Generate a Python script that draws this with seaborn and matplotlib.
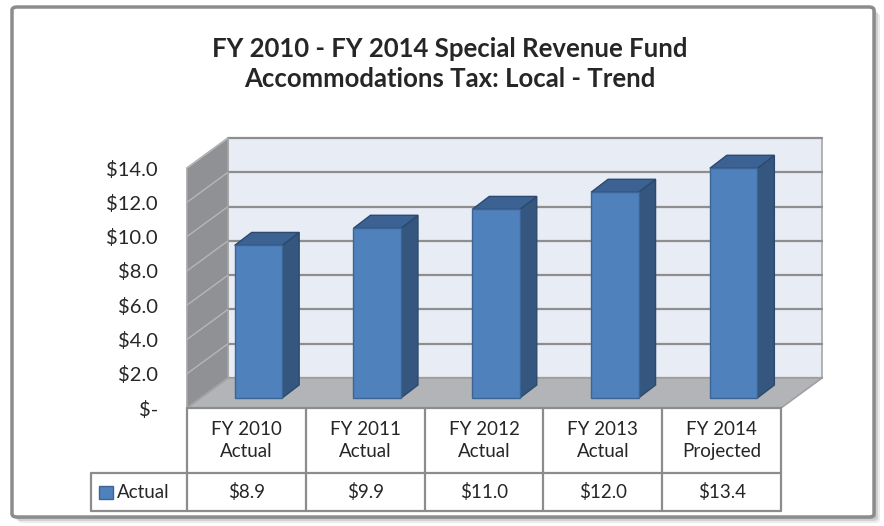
import pandas as pd
import matplotlib
matplotlib.use("Agg")
import matplotlib.pyplot as plt
from matplotlib.patches import Polygon, Rectangle, FancyBboxPatch
from matplotlib.transforms import ScaledTranslation
import seaborn as sns

# data
years = ["FY 2010", "FY 2011", "FY 2012", "FY 2013", "FY 2014"]
status = ["Actual", "Actual", "Actual", "Actual", "Projected"]
revenue = [8.9, 9.9, 11.0, 12.0, 13.4]
value_labels = ["$8.9", "$9.9", "$11.0", "$12.0", "$13.4"]
y_ticks = [0, 2, 4, 6, 8, 10, 12, 14]
y_tick_labels = ["$-", "$2.0", "$4.0", "$6.0", "$8.0", "$10.0", "$12.0", "$14.0"]
series_name = "Actual"
title = "FY 2010 - FY 2014 Special Revenue Fund\nAccommodations Tax: Local - Trend"

sns.set_style("white")
plt.rcParams['font.family'] = ['Lato', 'DejaVu Sans']

W, H = 884, 526
fig = plt.figure(figsize=(W / 100, H / 100), dpi=100)


def box(x0, y0, x1, y1):
    # pixel box (top-left origin) -> figure fraction rect
    return [x0 / W, 1 - y1 / H, (x1 - x0) / W, (y1 - y0) / H]


# chart border with a soft shadow
for k, a in [(6, 0.15), (4, 0.25), (2, 0.35)]:
    fig.add_artist(FancyBboxPatch(((12 + k) / W, 1 - (517 + k) / H), 862 / W, 510 / H,
                                  boxstyle="round,pad=0,rounding_size=0.006",
                                  transform=fig.transFigure, fc="#808080", ec="none",
                                  alpha=a, zorder=-12))
fig.add_artist(FancyBboxPatch((12 / W, 1 - 517 / H), 862 / W, 510 / H,
                              boxstyle="round,pad=0,rounding_size=0.006",
                              transform=fig.transFigure, fc="white", ec="#8C8C8C",
                              lw=2.5, zorder=-10))

ax = fig.add_axes(box(187, 168, 781, 408))
ax.patch.set_visible(False)

df = pd.DataFrame({"year": years, "revenue": revenue})
sns.barplot(data=df, x="year", y="revenue", color="#4F81BD", width=0.4,
            errorbar=None, edgecolor="#3C6596", linewidth=1, saturation=1,
            ax=ax, zorder=4)
bars = list(ax.patches)

ax.set_xlim(-0.5, 4.5)
ax.set_ylim(0, 14)
for s in ax.spines.values():
    s.set_visible(False)
ax.set_xticks([])
ax.set_xlabel("")
ax.set_ylabel("")
ax.set_yticks(y_ticks)
ax.set_yticklabels(y_tick_labels)
ax.tick_params(axis="y", length=0, pad=21, labelsize=14.5)
ax.grid(False)

# pseudo 3D walls
ux, uy = 594 / 5, 240 / 14
dx, dy = 41 / ux, 30 / uy
x0, x1, top = -0.5, 4.5, 14
grid_c = "#8E8E8E"

ax.add_patch(Polygon([(x0 + dx, dy), (x1 + dx, dy), (x1 + dx, top + dy), (x0 + dx, top + dy)],
                     closed=True, fc="#E8ECF5", ec="#A6A6A6", lw=1.2, zorder=0, clip_on=False))
ax.add_patch(Polygon([(x0, 0), (x0 + dx, dy), (x0 + dx, top + dy), (x0, top)],
                     closed=True, fc="#8F9194", ec="#A6A6A6", lw=1.2, zorder=1, clip_on=False))
for v in y_ticks:
    ax.plot([x0 + dx, x1 + dx], [v + dy, v + dy], color=grid_c, lw=1.6, zorder=1, clip_on=False)
    ax.plot([x0, x0 + dx], [v, v + dy], color="#B5B6B8", lw=1.0, zorder=2, clip_on=False)
ax.add_patch(Polygon([(x0, 0), (x1, 0), (x1 + dx, dy), (x0 + dx, dy)],
                     closed=True, fc="#B2B4B7", ec="#A0A0A0", lw=1.2, zorder=2, clip_on=False))

# give the seaborn bars depth
shift = ScaledTranslation(12 / 100, 10 / 100, fig.dpi_scale_trans)
btrans = ax.transData + shift
bdx, bdy = 17 / ux, 13 / uy
for p in bars:
    p.set_transform(btrans)
    p.set_clip_on(False)
    bx, bw, bh = p.get_x(), p.get_width(), p.get_height()
    side = [(bx + bw, 0), (bx + bw + bdx, bdy), (bx + bw + bdx, bh + bdy), (bx + bw, bh)]
    cap = [(bx, bh), (bx + bw, bh), (bx + bw + bdx, bh + bdy), (bx + bdx, bh + bdy)]
    ax.add_patch(Polygon(side, closed=True, fc="#34567F", ec="#2C4A6E", lw=1,
                         transform=btrans, zorder=3, clip_on=False))
    ax.add_patch(Polygon(cap, closed=True, fc="#3B6293", ec="#2C4A6E", lw=1,
                         transform=btrans, zorder=3, clip_on=False))

# data table under the chart
tr = ax.get_xaxis_transform()
yh, yv = -65 / 240, -103 / 240
xl = x0 - 96 / ux
line_c = "#8C8C8C"
kw = dict(transform=tr, color=line_c, lw=1.6, clip_on=False, zorder=5)
ax.plot([x0, x1], [0, 0], **kw)
ax.plot([xl, x1], [yh, yh], **kw)
ax.plot([xl, x1], [yv, yv], **kw)
for xv in [x0 + i for i in range(6)]:
    ax.plot([xv, xv], [0, yv], **kw)
ax.plot([xl, xl], [yh, yv], **kw)

for i in range(len(years)):
    ax.text(i, yh / 2, f"{years[i]}\n{status[i]}", transform=tr, ha="center",
            va="center", fontsize=13.5, linespacing=1.4)
    ax.text(i, (yh + yv) / 2, value_labels[i], transform=tr, ha="center",
            va="center", fontsize=13.5)

fig.add_artist(Rectangle((99 / W, 1 - 499 / H), 14 / W, 13 / H, transform=fig.transFigure,
                         fc="#4F81BD", ec="#3C6596", lw=1))
fig.text(117 / W, 1 - 492 / H, series_name, ha="left", va="center", fontsize=13.5)

fig.text(450 / W, 1 - 64 / H, title, ha="center", va="center", fontsize=18.5,
         fontweight="bold", linespacing=1.3)

fig.savefig("out.png", dpi=100)
